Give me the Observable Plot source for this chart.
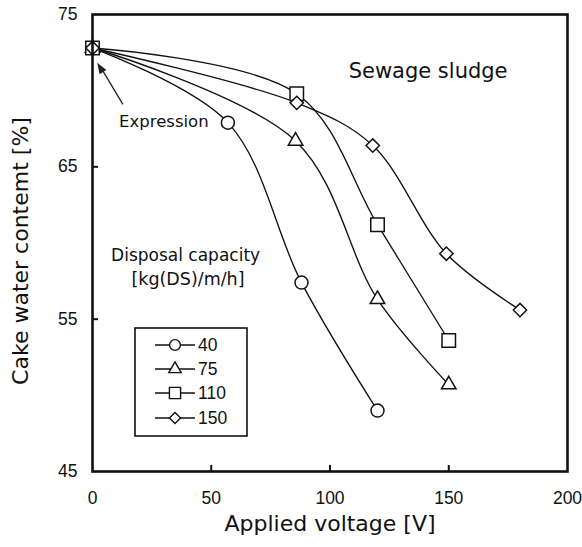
<!DOCTYPE html>
<html>
<head>
<meta charset="utf-8">
<script src="https://cdn.jsdelivr.net/npm/d3@7"></script>
<script src="https://cdn.jsdelivr.net/npm/@observablehq/plot@0.6"></script>
<style>
  body { margin: 0; background: #fff; }
  #chart { position: relative; width: 582px; height: 547px; }
</style>
</head>
<body>
<div id="chart"></div>
<script>
// ---- data ----
const seriesNames = ["40", "75", "110", "150"];
const symbols = ["circle", "triangle", "square", "diamond2"];
const voltage40 = [0, 57, 88, 120];
const water40 = [72.8, 67.9, 57.4, 49.0];
const voltage75 = [0, 85.5, 120, 150];
const water75 = [72.8, 66.7, 56.3, 50.7];
const voltage110 = [0, 86, 120, 150];
const water110 = [72.8, 69.8, 61.2, 53.6];
const voltage150 = [0, 86, 118, 149, 180];
const water150 = [72.8, 69.2, 66.4, 59.3, 55.6];
const xTicks = [0, 50, 100, 150, 200];
const yTicks = [45, 55, 65, 75];
const xLabel = "Applied voltage [V]";
const yLabel = "Cake water contemt [%]";
const titleText = "Sewage sludge";
const expressionText = "Expression";
const capacityLines = ["Disposal capacity", "[kg(DS)/m/h]"];
// annotation anchor points (data units)
const arrowFrom = {v: 12.8, w: 69.1};
const arrowTo = {v: 2.2, w: 71.8};

const volts = [voltage40, voltage75, voltage110, voltage150];
const waters = [water40, water75, water110, water150];
const rows = [];
seriesNames.forEach((s, i) => volts[i].forEach((v, j) => rows.push({series: s, v, w: waters[i][j]})));

const symR = {circle: 6.5, triangle: 5.4, square: 7.6, diamond2: 6.0};
const numFont = "'Liberation Sans', Arial, sans-serif";
const txtFont = "'DejaVu Sans', sans-serif";

const W = 582, H = 547;
const mL = 92, mR = 15, mT = 14, mB = 76;

const plot = Plot.plot({
  width: W, height: H,
  marginLeft: mL, marginRight: mR, marginTop: mT, marginBottom: mB,
  style: {fontFamily: numFont, fontSize: "17.5px", color: "#111", background: "#fff"},
  x: {domain: [0, 200], label: null},
  y: {domain: [45, 75], label: null},
  marks: [
    Plot.axisX({ticks: xTicks, tickSize: 0, tickPadding: 20, fontSize: 17.5}),
    Plot.axisX({ticks: xTicks.slice(1, -1), tickSize: -6, tickFormat: () => "", strokeWidth: 2}),
    Plot.axisY({ticks: yTicks, tickSize: 0, tickPadding: 15, fontSize: 17.5}),
    Plot.axisY({ticks: yTicks.slice(1, -1), tickSize: -6, tickFormat: () => "", strokeWidth: 2}),
    ...seriesNames.map((s) =>
      Plot.line(rows.filter(d => d.series === s), {x: "v", y: "w", curve: "catmull-rom", stroke: "#111", strokeWidth: 1.35})
    ),
    ...seriesNames.map((s, i) =>
      Plot.dot(rows.filter(d => d.series === s), {x: "v", y: "w", symbol: symbols[i], r: symR[symbols[i]], fill: "#fff", stroke: "#111", strokeWidth: 1.5})
    ),
    Plot.frame({stroke: "#111", strokeWidth: 2.6}),
    Plot.link([0], {x1: () => arrowFrom.v, y1: () => arrowFrom.w, x2: () => arrowTo.v + 1.6, y2: () => arrowTo.w - 0.35, stroke: "#222", strokeWidth: 1.3}),
    Plot.text([expressionText], {x: 11.2, y: 67.95, text: d => d, textAnchor: "start", fontFamily: txtFont, fontSize: 16.5, fill: "#111"}),
    Plot.text([titleText], {x: 141.3, y: 71.3, text: d => d, fontFamily: txtFont, fontSize: 21, fill: "#111"}),
    Plot.text([capacityLines[0]], {x: 39.2, y: 59.2, text: d => d, fontFamily: txtFont, fontSize: 17, fill: "#111"}),
    Plot.text([capacityLines[1]], {x: 40.2, y: 57.6, text: d => d, fontFamily: txtFont, fontSize: 17.5, fill: "#111"}),
    Plot.text([xLabel], {frameAnchor: "bottom", dy: 52, textAnchor: "middle", lineAnchor: "middle", text: d => d, fontFamily: txtFont, fontSize: 22, fill: "#111"}),
    Plot.text([yLabel], {frameAnchor: "left", dx: -72, dy: 8, textAnchor: "middle", lineAnchor: "middle", rotate: -90, text: d => d, fontFamily: txtFont, fontSize: 22, fill: "#111"})
  ]
});
document.getElementById("chart").appendChild(plot);

const svg = d3.select(plot);
// filled arrow head for the "Expression" pointer
{
  const sx = plot.scale("x"), sy = plot.scale("y");
  const x1 = sx.apply(arrowFrom.v), y1 = sy.apply(arrowFrom.w);
  const x2 = sx.apply(arrowTo.v), y2 = sy.apply(arrowTo.w);
  const ang = Math.atan2(y2 - y1, x2 - x1);
  const L = 11, Wd = 4;
  const bx = x2 - L * Math.cos(ang), by = y2 - L * Math.sin(ang);
  const px = -Math.sin(ang) * Wd, py = Math.cos(ang) * Wd;
  svg.append("path")
    .attr("d", `M${x2},${y2}L${bx + px},${by + py}L${bx - px},${by - py}Z`)
    .attr("fill", "#222");
}

// ---- legend inside the plot (pixel layout) ----
const lg = svg.append("g").attr("font-family", numFont).attr("font-size", 17.5).attr("fill", "#111");
lg.append("rect").attr("x", 135).attr("y", 328).attr("width", 112).attr("height", 108)
  .attr("fill", "#fff").attr("stroke", "#111").attr("stroke-width", 1.6);
const symMap = {circle: d3.symbolCircle, triangle: d3.symbolTriangle, square: d3.symbolSquare, diamond2: d3.symbolDiamond2};
const legR = {circle: 5.4, triangle: 4.6, square: 6.3, diamond2: 5.0};
const rowY = [345, 369, 393, 418];
seriesNames.forEach((s, i) => {
  const y = rowY[i];
  lg.append("line").attr("x1", 155).attr("x2", 195).attr("y1", y).attr("y2", y).attr("stroke", "#111").attr("stroke-width", 1.3);
  const r = legR[symbols[i]];
  lg.append("path").attr("transform", `translate(175,${y})`)
    .attr("d", d3.symbol(symMap[symbols[i]], Math.PI * r * r)())
    .attr("fill", "#fff").attr("stroke", "#111").attr("stroke-width", 1.4);
  lg.append("text").attr("x", 198).attr("y", y).attr("dy", "0.36em").attr("text-anchor", "start").text(s);
});
</script>
</body>
</html>
